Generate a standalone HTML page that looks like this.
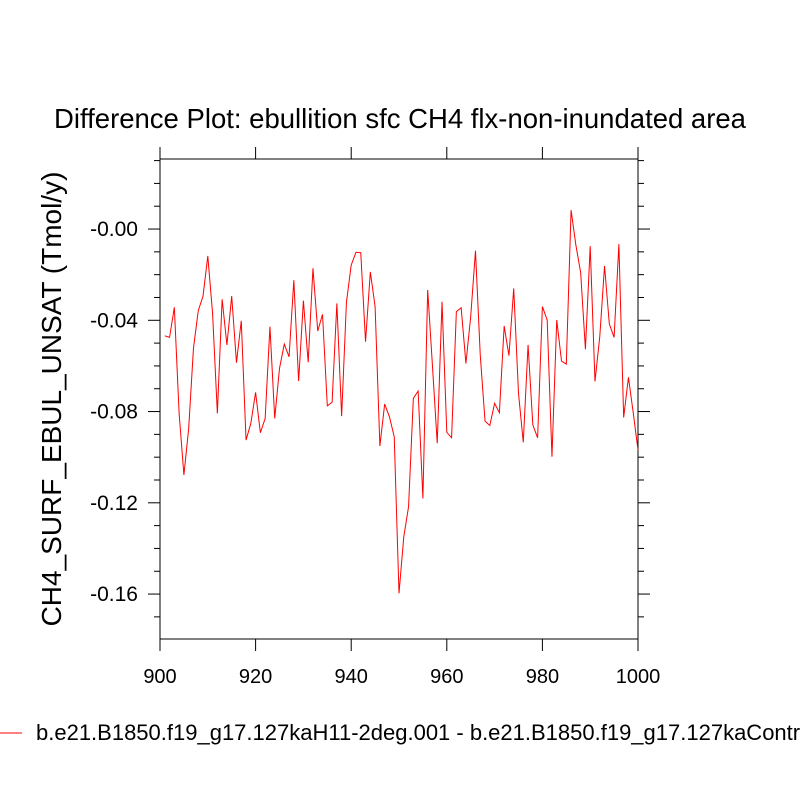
<!DOCTYPE html>
<html><head><meta charset="utf-8"><style>
html,body{margin:0;padding:0;background:#fff;}
svg{display:block;font-family:"Liberation Sans",sans-serif;}
</style></head><body>
<svg id="chart" width="800" height="800" viewBox="0 0 800 800">
<text x="400" y="128" font-size="27.5" text-anchor="middle">Difference Plot: ebullition sfc CH4 flx-non-inundated area</text>
<text transform="translate(61,399) rotate(-90)" font-size="28" text-anchor="middle">CH4_SURF_EBUL_UNSAT  (Tmol/y)</text>
<g id="axes"></g>
<g id="series"></g>
<line x1="0" y1="733" x2="22" y2="733" stroke="#ff0000" stroke-width="1"/>
<text x="36" y="740" font-size="22">b.e21.B1850.f19_g17.127kaH11-2deg.001 - b.e21.B1850.f19_g17.127kaControl</text>
</svg>
<script>
const years = [];
for (let y = 901; y <= 1000; y++) years.push(y);
const values = [
-0.0468,-0.0475,-0.0343,-0.0808,-0.1078,-0.0874,-0.0523,-0.0358,-0.0294,-0.0118,
-0.0370,-0.0808,-0.0308,-0.0508,-0.0294,-0.0586,-0.0402,-0.0925,-0.0852,-0.0716,
-0.0893,-0.0830,-0.0428,-0.0830,-0.0611,-0.0504,-0.0560,-0.0224,-0.0666,-0.0314,
-0.0584,-0.0172,-0.0447,-0.0374,-0.0775,-0.0760,-0.0326,-0.0820,-0.0322,-0.0158,
-0.0102,-0.0104,-0.0494,-0.0188,-0.0340,-0.0951,-0.0767,-0.0823,-0.0910,-0.1597,
-0.1349,-0.1217,-0.0742,-0.0710,-0.1181,-0.0267,-0.0600,-0.0939,-0.0319,-0.0891,
-0.0915,-0.0362,-0.0345,-0.0589,-0.0384,-0.0095,-0.0553,-0.0842,-0.0861,-0.0764,
-0.0805,-0.0425,-0.0555,-0.0260,-0.0720,-0.0935,-0.0508,-0.0859,-0.0915,-0.0340,
-0.0399,-0.0998,-0.0399,-0.0579,-0.0592,0.0083,-0.0070,-0.0190,-0.0527,-0.0075,
-0.0668,-0.0472,-0.0162,-0.0416,-0.0475,-0.0066,-0.0826,-0.0650,-0.0805,-0.0969
];
const xTicks = [900,920,940,960,980,1000];
const yTicks = [0,-0.04,-0.08,-0.12,-0.16];
const yTickLabels = ["-0.00","-0.04","-0.08","-0.12","-0.16"];
const xMin=900,xMax=1000,yMin=-0.1797,yMax=0.0307;
const L=160,R=638,T=159,B=639;
function sx(v){return L+(v-xMin)/(xMax-xMin)*(R-L);}
function sy(v){return B-(v-yMin)/(yMax-yMin)*(B-T);}
const NS="http://www.w3.org/2000/svg";
const axes=document.getElementById('axes');
function mk(tag,attrs,parent){const e=document.createElementNS(NS,tag);for(const k in attrs)e.setAttribute(k,attrs[k]);parent.appendChild(e);return e;}
const frame=mk('rect',{x:L,y:T,width:R-L,height:B-T,fill:'none',stroke:'#000','stroke-width':1},axes);


xTicks.forEach(t=>{
  const x=sx(t);
  const a=mk('line',{x1:x,y1:B,x2:x,y2:B+12,stroke:'#000'},axes);
  
  
  const b=mk('line',{x1:x,y1:T,x2:x,y2:T-12,stroke:'#000'},axes);
  
  
  const tx=mk('text',{x:x,y:B+44,'font-size':20,'text-anchor':'middle'},axes);
  tx.textContent=t;
  
  
});
for(let k=-18;k<=3;k++){
  const v=k/100;const y=sy(v);
  if(y<T-0.5||y>B+0.5)continue;
  const major=(k%4===0);
  const len=major?12:6;
  const a=mk('line',{x1:L,y1:y,x2:L-len,y2:y,stroke:'#000'},axes);
  
  
  const b=mk('line',{x1:R,y1:y,x2:R+len,y2:y,stroke:'#000'},axes);
  
  
}
yTicks.forEach((t,i)=>{
  const tx=mk('text',{x:L-22,y:sy(t)+7,'font-size':21,'text-anchor':'end'},axes);
  tx.textContent=yTickLabels[i];
  
  
});
const pts=values.map((v,i)=>sx(years[i]).toFixed(2)+','+sy(v).toFixed(2)).join(' ');
const line=mk('polyline',{points:pts,fill:'none',stroke:'#ff0000','stroke-width':1},document.getElementById('series'));


</script>
</body></html>
